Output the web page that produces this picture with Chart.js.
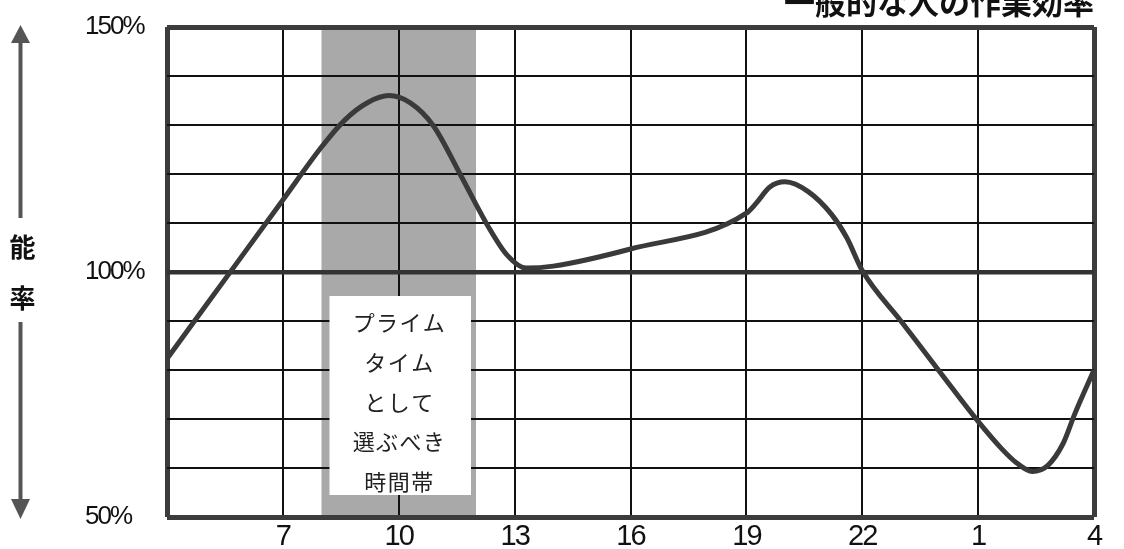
<!DOCTYPE html>
<html><head><meta charset="utf-8">
<script src="https://cdn.jsdelivr.net/npm/chart.js@4"></script>
<style>html,body{margin:0;padding:0;background:#fff;}#wrap{width:1124px;height:549px;position:relative;}</style>
</head><body><div id="wrap"><canvas id="c"></canvas></div>
<script>
// ---- data ----
const hours =      [4,    5,    6,     7,     8,     8.6, 9.2,   9.75, 10.3,  10.9,  11.6,  12.3,  12.8,  13.3,  14,    16,    19,  19.25, 19.6,  20.0,  20.6,  21.2,  21.6, 22.0,  23.0, 24.0, 25.0, 25.6, 26.0, 26.4, 26.8, 27.2, 27.5, 28];
const efficiency = [82.3, 93.1, 103.9, 114.7, 125.5, 131, 134.6, 136,  134.5, 129.8, 119.8, 109.5, 103.5, 100.8, 101.2, 104.7, 112, 114,   117.3, 118.4, 116.4, 111.8, 107,  100.3, 90,   79.7, 69.5, 64,   61,   59.3, 60.5, 65,   71,   80];
const xTickValues = [4, 7, 10, 13, 16, 19, 22, 25, 28];
const xTickLabels = ['', '7', '10', '13', '16', '19', '22', '1', '4'];
const yTickValues = [50, 60, 70, 80, 90, 100, 110, 120, 130, 140, 150];
const yLabelValues = [50, 100, 150];
const yLabelTexts = ['50%', '100%', '150%'];
const primeRange = [8, 12];
const primeText = ['プライム', 'タイム', 'として', '選ぶべき', '時間帯'];
const titleText = '一般的な人の作業効率';
const axisWord = ['能', '率'];

const NUM_FONT = '"Liberation Sans",Arial,sans-serif';
const JP_FONT = '"Noto Sans CJK JP","Noto Sans",sans-serif';

const decor = {
  id: 'decor',
  beforeDraw(chart) {
    const {ctx, chartArea: a, scales: {x}} = chart;
    ctx.save();
    ctx.fillStyle = '#ffffff';
    ctx.fillRect(0, 0, chart.width, chart.height);
    const x0 = x.getPixelForValue(primeRange[0]);
    const x1 = x.getPixelForValue(primeRange[1]);
    ctx.fillStyle = '#a9a9a9';
    ctx.fillRect(x0, a.top, x1 - x0, a.bottom - a.top);
    ctx.restore();
    // condensed look for the axis numbers drawn next by the scales
    if ('letterSpacing' in ctx) ctx.letterSpacing = '-2px';
  },
  beforeDatasetsDraw(chart) {
    const {ctx, scales: {x, y}} = chart;
    if ('letterSpacing' in ctx) ctx.letterSpacing = '0px';
    const x0 = x.getPixelForValue(primeRange[0]) + 8;
    const x1 = x.getPixelForValue(primeRange[1]) - 5;
    const top = y.getPixelForValue(100) + 24;
    const bottom = y.getPixelForValue(50) - 22;
    ctx.save();
    ctx.fillStyle = '#ffffff';
    ctx.fillRect(x0, top, x1 - x0, bottom - top);
    ctx.fillStyle = '#222';
    ctx.font = '22px ' + JP_FONT;
    ctx.textAlign = 'center';
    ctx.textBaseline = 'middle';
    const cx = x.getPixelForValue(10);
    primeText.forEach((t, i) => {
      ctx.fillText(t.split('').join('\u200A'), cx, top + 27 + i * 39.7);
    });
    ctx.restore();
  },
  afterDraw(chart) {
    const {ctx, chartArea: a} = chart;
    ctx.save();
    ctx.fillStyle = '#111';
    ctx.font = 'bold 31px ' + JP_FONT;
    ctx.textAlign = 'right';
    ctx.textBaseline = 'alphabetic';
    ctx.fillText(titleText, a.right, 14);
    const ax = 20.5;
    ctx.fillStyle = '#555';
    ctx.fillRect(ax - 2, 41, 4, 177);
    ctx.beginPath(); ctx.moveTo(ax, 25); ctx.lineTo(ax - 9.5, 43); ctx.lineTo(ax + 9.5, 43); ctx.closePath(); ctx.fill();
    ctx.fillRect(ax - 2, 322, 4, 178);
    ctx.beginPath(); ctx.moveTo(ax, 519); ctx.lineTo(ax - 9.5, 499); ctx.lineTo(ax + 9.5, 499); ctx.closePath(); ctx.fill();
    ctx.fillStyle = '#111';
    ctx.font = 'bold 26px ' + JP_FONT;
    ctx.textAlign = 'center';
    ctx.textBaseline = 'middle';
    ctx.fillText(axisWord[0], ax + 2, 247);
    ctx.fillText(axisWord[1], ax + 2, 298);
    ctx.restore();
  }
};

const edgeX = v => v === xTickValues[0] || v === xTickValues[xTickValues.length - 1];
const edgeY = v => v === yTickValues[0] || v === yTickValues[yTickValues.length - 1];

new Chart(document.getElementById('c'), {
  type: 'line',
  data: {
    datasets: [{
      data: hours.map((h, i) => ({x: h, y: efficiency[i]})),
      borderColor: '#3a3a3a',
      borderWidth: 5,
      pointRadius: 0,
      cubicInterpolationMode: 'monotone',
      fill: false
    }]
  },
  options: {
    responsive: true,
    maintainAspectRatio: false,
    animation: false,
    devicePixelRatio: 1,
    layout: {padding: {left: 85, right: 30, top: 27, bottom: 0}},
    plugins: {legend: {display: false}, tooltip: {enabled: false}},
    scales: {
      x: {
        type: 'linear',
        min: xTickValues[0],
        max: xTickValues[xTickValues.length - 1],
        afterBuildTicks: s => { s.ticks = xTickValues.map(v => ({value: v})); },
        afterFit: s => { s.height = 32; },
        border: {display: false},
        grid: {
          drawTicks: false,
          color: ctx => edgeX(ctx.tick.value) ? '#3c3c3c' : '#111',
          lineWidth: ctx => edgeX(ctx.tick.value) ? 5 : 2
        },
        ticks: {
          padding: 3,
          color: '#111',
          font: {family: NUM_FONT, size: 29},
          maxRotation: 0,
          autoSkip: false,
          callback: v => xTickLabels[xTickValues.indexOf(v)]
        }
      },
      y: {
        min: yTickValues[0],
        max: yTickValues[yTickValues.length - 1],
        afterBuildTicks: s => { s.ticks = yTickValues.map(v => ({value: v})); },
        afterFit: s => { s.width = 82; },
        border: {display: false},
        grid: {
          drawTicks: false,
          color: ctx => edgeY(ctx.tick.value) ? '#3c3c3c' : (ctx.tick.value === 100 ? '#333' : '#111'),
          lineWidth: ctx => edgeY(ctx.tick.value) ? 5 : (ctx.tick.value === 100 ? 4.5 : 2)
        },
        ticks: {
          crossAlign: 'far',
          color: '#111',
          font: {family: NUM_FONT, size: 26},
          autoSkip: false,
          callback: v => { const i = yLabelValues.indexOf(v); return i >= 0 ? yLabelTexts[i] : ''; }
        }
      }
    }
  },
  plugins: [decor]
});
</script></body></html>
